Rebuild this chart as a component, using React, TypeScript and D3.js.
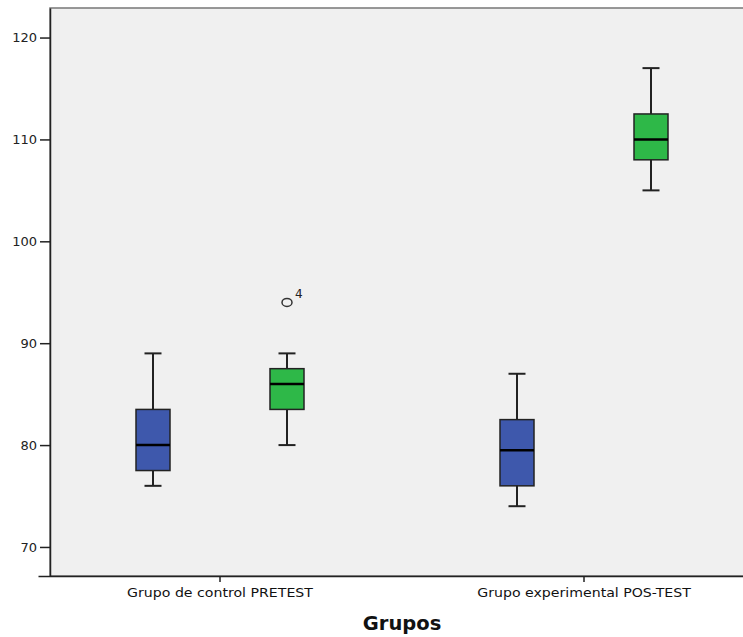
import React, { useEffect, useRef } from 'react';
import * as d3 from 'd3';

// groups on the x axis
const groups = ['Grupo de control PRETEST', 'Grupo experimental POS-TEST'];
// two variables per group (blue / green)
const series = ['pre', 'post'];
const seriesColors = ['#3E58AC', '#2EB848'];

// five-number summaries: [whiskerLow, q1, median, q3, whiskerHigh]
const controlStats = [
  [76, 77.5, 80, 83.5, 89],
  [80, 83.5, 86, 87.5, 89],
];
const experimentalStats = [
  [74, 76, 79.5, 82.5, 87],
  [105, 108, 110, 112.5, 117],
];
// outliers: [groupIndex, seriesIndex, value, case label]
const outliers = [[0, 1, 94, '4']];

const yTicks = [70, 80, 90, 100, 110, 120];

const font = '"DejaVu Sans", Arial, sans-serif';

const App = () => {
  const ref = useRef<SVGSVGElement>(null);

  useEffect(() => {
    document.body.style.margin = '0';
    const width = 743;
    const height = 637;
    const margin = { top: 8, right: -4, bottom: 61, left: 50 };

    const svg = d3.select(ref.current);
    svg.selectAll('*').remove();
    svg.attr('width', width).attr('height', height)
      .style('display', 'block')
      .style('font-family', font);

    const x0 = d3.scaleBand()
      .domain(groups)
      .range([38, 766]);

    const x1 = d3.scalePoint()
      .domain(series)
      .range([-67, 67]);

    const y = d3.scaleLinear()
      .domain([67.15, 122.9])
      .range([height - margin.bottom, margin.top]);

    const boxW = 34;
    const capW = 17;

    // plot background
    svg.append('rect')
      .attr('x', margin.left)
      .attr('y', margin.top)
      .attr('width', width - margin.left - margin.right)
      .attr('height', height - margin.bottom - margin.top)
      .attr('fill', '#f0f0f0')
      .attr('stroke', '#777')
      .attr('stroke-width', 1.5);

    // y axis
    const yAxis = svg.append('g')
      .attr('transform', `translate(${margin.left},0)`)
      .call(d3.axisLeft(y).tickValues(yTicks).tickSize(10).tickSizeOuter(0).tickPadding(3));
    yAxis.select('.domain').attr('stroke', '#222').attr('stroke-width', 1.5);
    yAxis.selectAll('.tick line').attr('stroke', '#222').attr('stroke-width', 1.5);
    yAxis.selectAll('.tick text')
      .attr('fill', '#222')
      .style('font-size', '13px')
      .style('font-family', font);

    // x axis
    const xAxis = svg.append('g')
      .attr('transform', `translate(0,${height - margin.bottom})`)
      .call(d3.axisBottom(x0).tickSize(6).tickSizeOuter(0).tickPadding(6));
    xAxis.select('.domain').attr('stroke', '#222').attr('stroke-width', 1.5);
    xAxis.selectAll('.tick line').attr('stroke', '#222').attr('stroke-width', 1.5);
    xAxis.selectAll<SVGTextElement, string>('.tick text')
      .attr('fill', '#111')
      .style('font-size', '12.5px')
      .style('font-family', font)
      .each(function () {
        // the original labels are a bit wider than the font renders
        const w = this.getComputedTextLength();
        d3.select(this).attr('textLength', w * 1.13).attr('lengthAdjust', 'spacingAndGlyphs');
      });

    // axis title
    svg.append('text')
      .attr('x', 402)
      .attr('y', 630)
      .attr('text-anchor', 'middle')
      .style('font-size', '19.5px')
      .style('font-weight', 'bold')
      .attr('fill', '#111')
      .text('Grupos');

    const data = [controlStats, experimentalStats].flatMap((stats, gi) =>
      stats.map((s, si) => ({ group: groups[gi], series: series[si], color: seriesColors[si], s })));

    const boxes = svg.append('g')
      .selectAll('g')
      .data(data)
      .join('g')
      .attr('transform', d => `translate(${x0(d.group)! + x0.bandwidth() / 2 + x1(d.series)!},0)`);

    // whiskers
    boxes.append('line')
      .attr('x1', 0).attr('x2', 0)
      .attr('y1', d => y(d.s[0])).attr('y2', d => y(d.s[4]))
      .attr('stroke', '#222').attr('stroke-width', 2);
    boxes.selectAll('line.cap')
      .data(d => [d.s[0], d.s[4]])
      .join('line')
      .attr('class', 'cap')
      .attr('x1', -capW / 2).attr('x2', capW / 2)
      .attr('y1', v => y(v)).attr('y2', v => y(v))
      .attr('stroke', '#222').attr('stroke-width', 2);

    // boxes
    boxes.append('rect')
      .attr('x', -boxW / 2)
      .attr('width', boxW)
      .attr('y', d => y(d.s[3]))
      .attr('height', d => y(d.s[1]) - y(d.s[3]))
      .attr('fill', d => d.color)
      .attr('stroke', '#222')
      .attr('stroke-width', 1.5);

    // medians
    boxes.append('line')
      .attr('x1', -boxW / 2).attr('x2', boxW / 2)
      .attr('y1', d => y(d.s[2])).attr('y2', d => y(d.s[2]))
      .attr('stroke', '#000').attr('stroke-width', 2.5);

    // outliers
    outliers.forEach(([gi, si, v, label]) => {
      const cx = x0(groups[gi as number])! + x0.bandwidth() / 2 + x1(series[si as number])!;
      svg.append('ellipse')
        .attr('cx', cx).attr('cy', y(v as number))
        .attr('rx', 5).attr('ry', 4)
        .attr('fill', 'none').attr('stroke', '#333').attr('stroke-width', 1.5);
      svg.append('text')
        .attr('x', cx + 8).attr('y', y(v as number) - 4)
        .style('font-size', '12px')
        .attr('fill', '#222')
        .text(label as string);
    });
  }, []);

  return <svg ref={ref}></svg>;
};

export default App;
